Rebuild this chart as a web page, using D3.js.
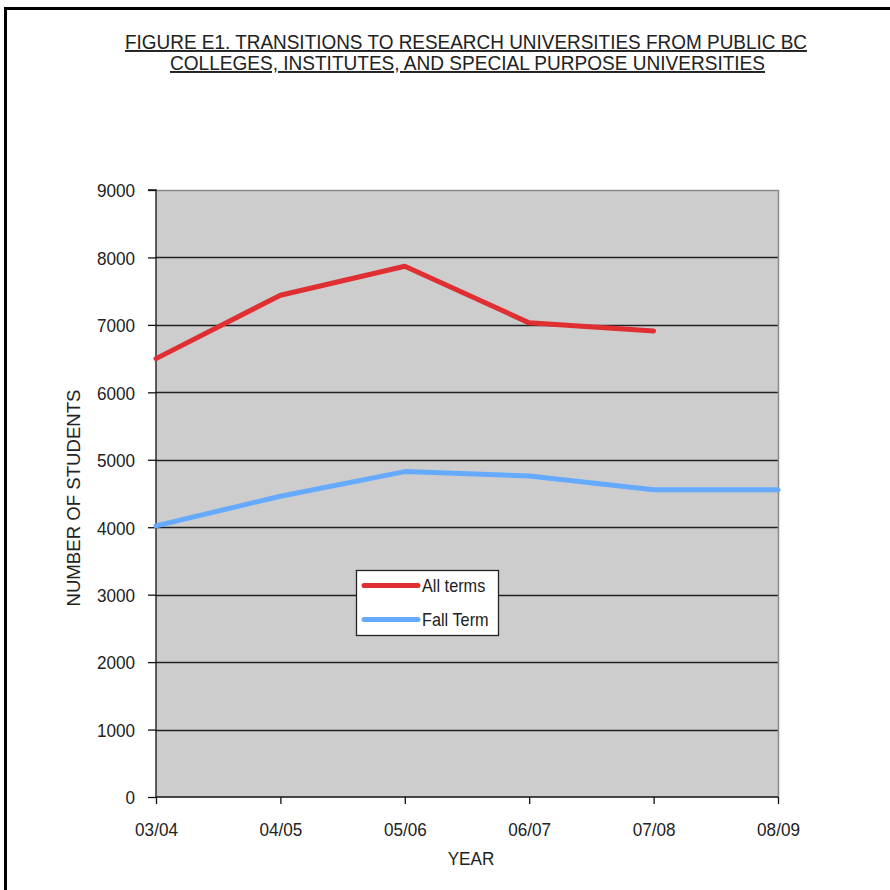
<!DOCTYPE html>
<html>
<head>
<meta charset="utf-8">
<script src="https://cdn.jsdelivr.net/npm/d3@7"></script>
<style>
  html, body { margin: 0; padding: 0; background: #ffffff; }
  svg { display: block; }
  text { font-family: "Liberation Sans", Arial, sans-serif; fill: #222; }
</style>
</head>
<body>
<svg id="chart" width="890" height="890"></svg>
<script>
// Academic years on the category axis
const years = ["03/04", "04/05", "05/06", "06/07", "07/08", "08/09"];
// Students transitioning, all terms (no figure yet for 08/09)
const allTerms = [6500, 7440, 7870, 7030, 6910, null];
// Students transitioning, fall term only
const fallTerm = [4020, 4460, 4825, 4760, 4555, 4555];
// Value axis ticks
const yTicks = [0, 1000, 2000, 3000, 4000, 5000, 6000, 7000, 8000, 9000];
const seriesNames = ["All terms", "Fall Term"];
const seriesColors = ["#df2f33", "#66aaff"];

const svg = d3.select("#chart");

const plot = { left: 156, right: 778, top: 190, bottom: 797 };

const x = d3.scalePoint().domain(years).range([plot.left, plot.right]);
const y = d3.scaleLinear().domain([0, 9000]).range([plot.bottom, plot.top]);

// Slightly condensed lettering: squeeze each label to a fraction of its natural width
function condense(sel, factor) {
  sel.each(function () {
    const w = this.getComputedTextLength();
    d3.select(this).attr("textLength", w * factor).attr("lengthAdjust", "spacingAndGlyphs");
  });
}

// Outer frame (top and left edges)
svg.append("line").attr("x1", 4).attr("x2", 890).attr("y1", 8.5).attr("y2", 8.5)
  .attr("stroke", "#000").attr("stroke-width", 3);
svg.append("line").attr("x1", 5.5).attr("x2", 5.5).attr("y1", 7).attr("y2", 890)
  .attr("stroke", "#000").attr("stroke-width", 3);

// Title
const titleLines = [
  { text: "FIGURE E1. TRANSITIONS TO RESEARCH UNIVERSITIES FROM PUBLIC BC", x0: 125, x1: 807, y: 49 },
  { text: "COLLEGES, INSTITUTES, AND SPECIAL PURPOSE UNIVERSITIES", x0: 170, x1: 765, y: 70 }
];
titleLines.forEach(t => {
  svg.append("text")
    .attr("x", t.x0).attr("y", t.y)
    .attr("font-size", 19.5)
    .attr("textLength", t.x1 - t.x0)
    .attr("lengthAdjust", "spacingAndGlyphs")
    .attr("text-decoration", "underline")
    .text(t.text);
});

// Plot background
svg.append("rect")
  .attr("x", plot.left).attr("y", plot.top)
  .attr("width", plot.right - plot.left).attr("height", plot.bottom - plot.top)
  .attr("fill", "#cdcdcd");

// Gridlines
svg.append("g").selectAll("line")
  .data(yTicks.filter(v => v > 0 && v < 9000))
  .join("line")
  .attr("x1", plot.left).attr("x2", plot.right)
  .attr("y1", d => Math.round(y(d)) + 0.5).attr("y2", d => Math.round(y(d)) + 0.5)
  .attr("stroke", "#222").attr("stroke-width", 1.3);

// Plot border top and right (grey)
svg.append("path")
  .attr("d", `M${plot.left},${plot.top + 0.5}H${plot.right + 0.5}V${plot.bottom}`)
  .attr("fill", "none").attr("stroke", "#8a8a8a").attr("stroke-width", 1.5);

// Y axis
const yAxis = d3.axisLeft(y).tickValues(yTicks).tickSize(8).tickPadding(13)
  .tickFormat(d3.format("d"));
const gy = svg.append("g").attr("transform", `translate(${plot.left},0)`).call(yAxis);
gy.select(".domain").attr("stroke", "#111").attr("stroke-width", 1.3).attr("d", `M-8,${plot.top}H0V${plot.bottom}`);
gy.selectAll(".tick line").attr("stroke", "#111").attr("stroke-width", 1.3);
gy.selectAll(".tick text").attr("font-size", 19)
  .attr("font-family", "Liberation Sans, Arial, sans-serif").attr("fill", "#222")
  .attr("dy", "0.36em")
  .call(condense, 0.9);

// X axis
const xAxis = d3.axisBottom(x).tickSize(7).tickPadding(19);
const gx = svg.append("g").attr("transform", `translate(0,${plot.bottom})`).call(xAxis);
gx.select(".domain").attr("stroke", "#111").attr("stroke-width", 1.3).attr("d", `M${plot.left},0H${plot.right}`);
gx.selectAll(".tick line").attr("stroke", "#111").attr("stroke-width", 1.3);
gx.selectAll(".tick text").attr("font-size", 19)
  .attr("font-family", "Liberation Sans, Arial, sans-serif").attr("fill", "#222")
  .call(condense, 0.9);

// Axis titles
svg.append("text")
  .attr("x", 471).attr("y", 865)
  .attr("text-anchor", "middle").attr("font-size", 19)
  .text("YEAR")
  .call(condense, 0.9);
svg.append("text")
  .attr("transform", "translate(80,498) rotate(-90)")
  .attr("text-anchor", "middle").attr("font-size", 19)
  .attr("textLength", 217).attr("lengthAdjust", "spacingAndGlyphs")
  .text("NUMBER OF STUDENTS");

// Series lines
const line = d3.line()
  .defined(d => d.v !== null)
  .x(d => x(d.year))
  .y(d => y(d.v));

[allTerms, fallTerm].forEach((vals, i) => {
  const data = years.map((yr, j) => ({ year: yr, v: vals[j] }));
  svg.append("path")
    .datum(data)
    .attr("fill", "none")
    .attr("stroke", seriesColors[i])
    .attr("stroke-width", 5)
    .attr("stroke-linejoin", "round")
    .attr("stroke-linecap", "round")
    .attr("d", line);
});

// Legend
const legend = svg.append("g").attr("transform", "translate(356,570)");
legend.append("rect")
  .attr("x", 0.5).attr("y", 0.5).attr("width", 142).attr("height", 65)
  .attr("fill", "#fff").attr("stroke", "#222").attr("stroke-width", 1.3);
seriesNames.forEach((name, i) => {
  const cy = 15.5 + i * 34;
  legend.append("line")
    .attr("x1", 8).attr("x2", 62).attr("y1", cy).attr("y2", cy)
    .attr("stroke", seriesColors[i]).attr("stroke-width", 5).attr("stroke-linecap", "round");
  legend.append("text")
    .attr("x", 66).attr("y", cy + 6.5)
    .attr("font-size", 18.5)
    .text(name)
    .call(condense, 0.88);
});
</script>
</body>
</html>
